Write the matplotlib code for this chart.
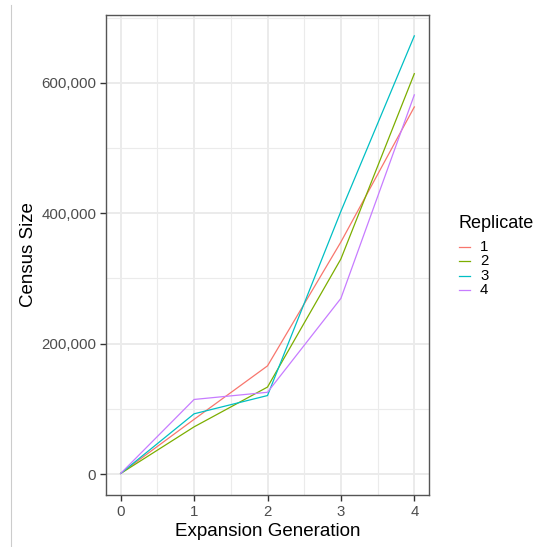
import matplotlib.pyplot as plt
from matplotlib.lines import Line2D
from matplotlib.ticker import FuncFormatter, MultipleLocator

plt.rcParams["font.family"] = ["Liberation Sans", "DejaVu Sans"]

generations = [0, 1, 2, 3, 4]
replicates = ["1", "2", "3", "4"]
census = {
    "1": [1000, 84000, 166000, 356000, 563000],
    "2": [1000, 72500, 133500, 330000, 614000],
    "3": [1000, 92500, 120500, 403000, 672000],
    "4": [1000, 114500, 125500, 269500, 581500],
}
colors = ["#F8766D", "#7CAE00", "#00BFC4", "#C77CFF"]

W, H = 546, 547
fig = plt.figure(figsize=(W / 100, H / 100), dpi=100)
fig.patch.set_facecolor("white")


def fx(px):
    return px / W


def fy(py):
    return 1 - py / H


# stray vertical rule at the far left of the reference image
fig.add_artist(Line2D([fx(11), fx(11)], [0, fy(5)], color="#CCCCCC", lw=0.8))

ax = fig.add_axes([fx(106), fy(495), (429 - 106) / W, (495 - 15) / H])
for rep, c in zip(replicates, colors):
    ax.plot(generations, census[rep], color=c, lw=0.9, label=rep)

ax.set_xlim(-0.2, 4.2)
ax.set_ylim(-32000, 704000)
ax.xaxis.set_major_locator(MultipleLocator(1))
ax.xaxis.set_minor_locator(MultipleLocator(0.5))
ax.yaxis.set_major_locator(MultipleLocator(200000))
ax.yaxis.set_minor_locator(MultipleLocator(100000))
ax.yaxis.set_major_formatter(FuncFormatter(lambda v, p: f"{int(v):,}"))

ax.grid(which="major", color="#EBEBEB", lw=1.4)
ax.grid(which="minor", color="#EBEBEB", lw=0.8)
ax.set_axisbelow(True)
ax.tick_params(which="major", length=4, width=1, color="#333333",
               labelsize=10.8, labelcolor="#4D4D4D", pad=3)
ax.tick_params(which="minor", length=0)
for s in ax.spines.values():
    s.set_color("#555555")
    s.set_linewidth(1)

ax.set_xlabel("Expansion Generation", fontsize=13.5, labelpad=3)
ax.set_ylabel("Census Size", fontsize=13.5, labelpad=3)

# legend, laid out like ggplot's guide
fig.text(fx(458), fy(223), "Replicate", fontsize=13, ha="left", va="center")
for i, (rep, c) in enumerate(zip(replicates, colors)):
    y = 247 + i * 14.4
    fig.add_artist(Line2D([fx(459), fx(470)], [fy(y), fy(y)], color=c, lw=0.9))
    fig.text(fx(480), fy(y), rep, fontsize=10.8, ha="left", va="center")

fig.savefig("out.png", dpi=100)
